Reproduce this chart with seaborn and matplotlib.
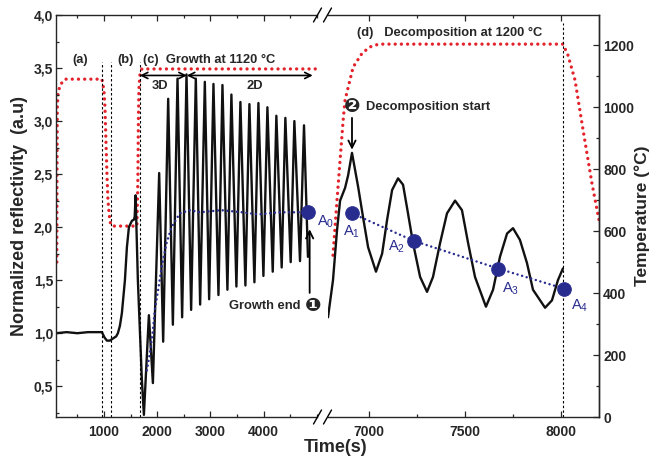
import numpy as np
import pandas as pd
import seaborn as sns
import matplotlib.pyplot as plt
from matplotlib.lines import Line2D
from matplotlib.ticker import MultipleLocator, NullLocator

# reflectivity during growth (left part of the broken time axis)
grow_t = [100, 300, 500, 700, 962, 1010, 1056, 1110, 1169, 1230, 1262, 1300, 1337, 1394, 1431,
          1469, 1525, 1562, 1578, 1594, 1637, 1712, 1750, 1844, 1919, 2037, 2112, 2206, 2294, 2381,
          2468, 2550, 2637, 2725, 2806, 2894, 2975, 3056, 3150, 3225, 3318, 3393, 3487, 3562, 3656,
          3731, 3825, 3900, 3994, 4069, 4169, 4237, 4337, 4406, 4506, 4575, 4681, 4756, 4830]
grow_r = [1.00, 1.01, 1.00, 1.01, 1.01, 0.96, 0.93, 0.93, 0.95, 0.97, 1.00, 1.07, 1.19, 1.50, 1.81,
          2.00, 2.06, 2.07, 2.10, 2.30, 1.50, 0.56, 0.23, 1.17, 0.53, 2.51, 0.92, 3.21, 1.08, 3.40,
          1.15, 3.44, 1.22, 3.40, 1.27, 3.37, 1.32, 3.35, 1.36, 3.34, 1.41, 3.25, 1.44, 3.18, 1.45,
          3.16, 1.48, 3.17, 1.54, 3.13, 1.58, 3.05, 1.62, 3.03, 1.67, 3.00, 1.68, 2.96, 1.72]

# reflectivity during decomposition (right part)
dec_t = [6786, 6812, 6833, 6849, 6875, 6891, 6911, 6927, 6943, 6969, 6995, 7036, 7068, 7094, 7120,
         7151, 7177, 7200, 7229, 7266, 7302, 7333, 7370, 7406, 7448, 7484, 7516, 7552, 7609, 7646,
         7682, 7719, 7750, 7786, 7823, 7854, 7917, 7953, 7984, 8010]
dec_r = [1.15, 1.50, 1.97, 2.25, 2.37, 2.49, 2.70, 2.54, 2.38, 2.09, 1.81, 1.58, 1.75, 2.07, 2.35,
         2.46, 2.40, 2.16, 1.85, 1.53, 1.39, 1.53, 1.85, 2.13, 2.25, 2.16, 1.85, 1.53, 1.25, 1.41,
         1.72, 1.94, 1.99, 1.88, 1.66, 1.41, 1.24, 1.31, 1.50, 1.61]

# temperature
temp_grow_t = [115, 119, 125, 137, 175, 269, 962, 1000, 1019, 1037, 1056, 1075, 1112, 1150, 1619,
               1637, 1647, 1656, 1675, 1712, 5000]
temp_grow_c = [500, 800, 1000, 1040, 1071, 1090, 1090, 1055, 1000, 894, 787, 700, 630, 616, 616,
               765, 958, 1055, 1103, 1123, 1123]
temp_dec_t = [6812, 6833, 6865, 6875, 6917, 6964, 7005, 7050, 8010, 8036, 8073, 8115, 8161, 8198]
temp_dec_c = [522, 700, 958, 1023, 1129, 1174, 1194, 1203, 1203, 1168, 1087, 926, 755, 635]

# mean reflectivity trend and oscillation amplitudes A0..A4
trend_t = [1806, 1862, 1913, 1956, 2018, 2082, 2176, 2269, 2425, 2612, 2800, 3200, 3600, 3900, 4300, 4825]
trend_r = [0.65, 0.81, 1.00, 1.22, 1.41, 1.62, 1.85, 2.00, 2.13, 2.16, 2.14, 2.16, 2.14, 2.12, 2.14, 2.14]
amp_t = [4825, 6911, 7234, 7672, 8016]
amp_r = [2.14, 2.13, 1.87, 1.61, 1.42]
amp_names = ['A$_0$', 'A$_1$', 'A$_2$', 'A$_3$', 'A$_4$']

stage_t = [962, 1131, 1675]
end_t = 8010

refl_ticks = [0.5, 1.0, 1.5, 2.0, 2.5, 3.0, 3.5, 4.0]
refl_labels = ['0,5', '1,0', '1,5', '2,0', '2,5', '3,0', '3,5', '4,0']
temp_ticks = [0, 200, 400, 600, 800, 1000, 1200]

RED = '#e3232b'
BLUE = '#282c8e'

sns.set_style('ticks')
plt.rcParams['font.family'] = ['Liberation Sans', 'DejaVu Sans']
plt.rcParams['font.weight'] = 'bold'
plt.rcParams['axes.labelweight'] = 'bold'
plt.rcParams['mathtext.fontset'] = 'custom'
plt.rcParams['mathtext.rm'] = 'Liberation Sans'
plt.rcParams['mathtext.default'] = 'regular'

W, H = 651, 461
fig = plt.figure(figsize=(W / 100, H / 100), dpi=100)


def box(x0, x1):
    return [x0 / W, 1 - 417 / H, (x1 - x0) / W, (417 - 15) / H]


axL = fig.add_axes(box(56, 317))
axR = fig.add_axes(box(328, 599))
tL = axL.twinx()
tR = axR.twinx()
for ax, tw in ((axL, tL), (axR, tR)):
    ax.set_zorder(tw.get_zorder() + 1)
    ax.patch.set_visible(False)

# temperature (red dotted)
for tw, t, c in ((tL, temp_grow_t, temp_grow_c), (tR, temp_dec_t, temp_dec_c)):
    sns.lineplot(x=t, y=c, ax=tw, color=RED, lw=2.4, sort=False, estimator=None,
                 linestyle=(0, (0.01, 1.85)), dash_capstyle='round')
    tw.set_ylim(0, 1297)

# reflectivity
sns.lineplot(x=grow_t, y=grow_r, ax=axL, color='#111111', lw=1.7, sort=False, estimator=None)
sns.lineplot(x=dec_t, y=dec_r, ax=axR, color='#111111', lw=1.7, sort=False, estimator=None)

# trend lines
sns.lineplot(x=trend_t, y=trend_r, ax=axL, color=BLUE, lw=1.8, sort=False, estimator=None,
             linestyle=(0, (0.01, 1.9)), dash_capstyle='round')
sns.lineplot(x=amp_t[1:], y=amp_r[1:], ax=axR, color=BLUE, lw=1.8, sort=False, estimator=None,
             linestyle=(0, (0.01, 1.9)), dash_capstyle='round')
sns.scatterplot(x=amp_t[:1], y=amp_r[:1], ax=axL, s=95, color=BLUE, edgecolor=BLUE, zorder=5)
sns.scatterplot(x=amp_t[1:], y=amp_r[1:], ax=axR, s=95, color=BLUE, edgecolor=BLUE, zorder=5)

# stage markers
dash = (0, (2.2, 2.0))
axL.vlines(stage_t, 0.21, 3.56, colors='black', linestyles=dash, lw=0.8)
axR.vlines(end_t, 0.21, 3.92, colors='black', linestyles=dash, lw=0.8)

# axes
axL.set_xlim(100, 5000)
axR.set_xlim(6786, 8198)
axL.set_xticks([1000, 2000, 3000, 4000])
axL.xaxis.set_minor_locator(MultipleLocator(500))
axR.set_xticks([7000, 7500, 8000])
axR.xaxis.set_minor_locator(MultipleLocator(250))
for ax in (axL, axR):
    ax.set_ylim(0.21, 4.0)
    ax.set_xlabel('')
axL.set_yticks(refl_ticks, labels=refl_labels)
axL.yaxis.set_minor_locator(MultipleLocator(0.25))
axR.set_yticks([])
axR.yaxis.set_minor_locator(NullLocator())
tL.set_yticks([])
tL.yaxis.set_minor_locator(NullLocator())
tR.set_yticks(temp_ticks)
tR.yaxis.set_minor_locator(MultipleLocator(100))

axL.spines['right'].set_visible(False)
axR.spines['left'].set_visible(False)
for s in tL.spines.values():
    s.set_visible(False)
for k in ('left', 'top', 'bottom'):
    tR.spines[k].set_visible(False)
for ax in (axL, axR, tR):
    for s in ax.spines.values():
        s.set_linewidth(1.0)

for ax in (axL, axR):
    ax.tick_params(which='both', direction='in', top=True, right=False, width=0.9, labelsize=10,
                   pad=6)
    ax.tick_params(which='major', length=4)
    ax.tick_params(which='minor', length=2.5)
axL.tick_params(axis='y', pad=2)
axR.tick_params(axis='y', which='both', left=False, right=False)
tR.tick_params(which='both', direction='in', width=0.9, labelsize=10, pad=3)
tR.tick_params(which='major', length=4)
tR.tick_params(which='minor', length=2.5)

axL.set_ylabel('Normalized reflectivity  (a.u)', fontsize=13, labelpad=4)
tR.set_ylabel('Temperature (°C)', fontsize=12.5, labelpad=0)
fig.text(336 / W, 1 - 447 / H, 'Time(s)', ha='center', va='center', fontsize=13)

# axis break marks
for xb in (317.5, 327.5):
    for yb in (15, 417):
        fig.add_artist(Line2D([(xb - 4) / W, (xb + 4) / W], [1 - (yb + 7) / H, 1 - (yb - 7) / H],
                              color='black', lw=1.0))

# annotations
fs = 9.3
axL.text(550, 3.575, '(a)', ha='center', va='center', fontsize=fs)
axL.text(1412, 3.575, '(b)', ha='center', va='center', fontsize=fs)
axL.text(1731, 3.575, '(c)  Growth at 1120 °C', ha='left', va='center', fontsize=fs)
axL.annotate('', xy=(1675, 3.43), xytext=(2556, 3.43),
             arrowprops=dict(arrowstyle='<->', lw=1.2, color='black', shrinkA=0, shrinkB=0,
                             mutation_scale=11))
axL.annotate('', xy=(2556, 3.43), xytext=(4919, 3.43),
             arrowprops=dict(arrowstyle='<->', lw=1.2, color='black', shrinkA=0, shrinkB=0,
                             mutation_scale=11))
axL.text(2050, 3.33, '3D', ha='center', va='center', fontsize=fs)
axL.text(3831, 3.33, '2D', ha='center', va='center', fontsize=fs)
axL.annotate('', xy=(4862, 1.98), xytext=(4862, 1.38),
             arrowprops=dict(arrowstyle='->', lw=1.3, color='black', shrinkA=0, shrinkB=0,
                             mutation_scale=13))
axL.text(4690, 1.255, 'Growth end', ha='right', va='center', fontsize=fs)
axL.text(4925, 1.255, '\u2776', ha='center', va='center', fontsize=14, clip_on=False)

axR.text(6911, 3.13, '\u2777', ha='center', va='center', fontsize=14)
axR.text(6985, 3.13, 'Decomposition start', ha='left', va='center', fontsize=fs)
axR.text(6937, 3.83, '(d)   Decomposition at 1200 °C', ha='left', va='center', fontsize=fs)
axR.annotate('', xy=(6911, 2.73), xytext=(6911, 3.03),
             arrowprops=dict(arrowstyle='->', lw=1.3, color='black', shrinkA=0, shrinkB=0,
                             mutation_scale=13))

label_pos = [(4994, 2.05, axL), (6864, 1.96, axR), (7098, 1.81, axR), (7692, 1.42, axR),
             (8052, 1.26, axR)]
for name, (lx, ly, ax) in zip(amp_names, label_pos):
    ax.text(lx, ly, name, ha='left', va='center', fontsize=10.5, fontweight='normal', color=BLUE,
            clip_on=False)

fig.savefig('out.png', dpi=100)
